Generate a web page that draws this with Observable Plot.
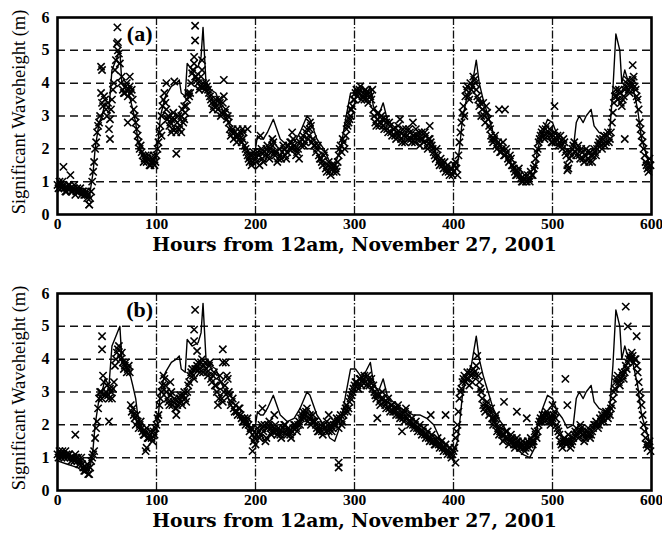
<!DOCTYPE html>
<html>
<head>
<meta charset="utf-8">
<script src="https://cdn.jsdelivr.net/npm/d3@7"></script>
<script src="https://cdn.jsdelivr.net/npm/@observablehq/plot@0.6"></script>
<style>
  html, body { margin: 0; padding: 0; background: #fff; }
  #chart svg { display: block; overflow: visible; }
</style>
</head>
<body>
<div id="chart"></div>
<script>
// ---- Data ----
const xTicks = [0, 100, 200, 300, 400, 500, 600];
const yTicks = [0, 1, 2, 3, 4, 5, 6];
const xGrid = [100, 200, 300, 400, 500];
const yGrid = [1, 2, 3, 4, 5];
const xLabel = "Hours from 12am, November 27, 2001";
const yLabel = "Significant Waveheight (m)";
const panelLabels = ["(a)", "(b)"];

// solid line (same series in both panels)
const lineHours = [0,10,15,20,25,30,33,36,38,42,45,48,52,55,59,63,65,69,72,76,79,81,84,91,98,101,104,109,115,120,123,125,129,131,136,142,145,147,150,155,160,165,170,175,182,189,196,200,202,205,208,212,218,225,232,239,245,252,255,262,269,275,280,286,291,296,301,306,311,316,319,324,329,333,339,346,353,359,366,373,380,386,393,400,404,406,409,413,418,423,426,430,433,436,440,445,450,457,463,470,477,482,485,490,495,500,505,510,515,521,524,527,531,534,539,542,547,553,558,561,564,568,570,573,576,581,586,590,595,600];
const lineValues = [0.9,0.8,0.75,0.7,0.6,0.5,0.7,1.3,2.0,2.8,3.0,3.4,3.2,4.4,4.7,5.0,4.0,3.8,3.7,3.2,2.8,2.3,1.9,1.7,1.6,2.0,3.0,3.6,3.9,4.0,4.1,3.7,3.6,4.6,4.4,4.5,4.8,5.7,4.0,3.8,3.7,3.3,3.0,2.6,2.3,2.1,1.8,2.0,2.4,2.3,2.3,2.5,2.9,2.3,2.1,2.2,2.5,3.0,2.9,2.3,2.0,1.6,1.5,2.0,2.9,3.7,3.7,3.5,3.6,3.9,3.3,3.0,3.4,2.9,2.7,2.5,2.4,2.3,2.3,2.2,2.0,1.6,1.4,1.2,1.5,2.0,2.9,3.5,3.8,4.7,4.0,3.5,3.2,2.9,2.5,2.2,2.0,1.6,1.3,1.1,1.0,1.3,2.0,2.5,2.9,2.8,2.4,2.2,1.9,2.0,2.8,3.0,2.8,3.0,3.2,2.7,2.5,2.4,2.6,3.8,5.5,5.0,4.0,4.4,4.1,3.9,3.2,2.3,1.8,1.3];

// crosses: one series at even hours (0,2,...,598), one at odd hours (1,3,...,599)
const obsAEven = [
  0.9,1.0,0.8,0.9,0.7,0.8,0.9,0.7,0.8,0.6,
  0.8,0.7,0.6,0.7,0.6,0.5,0.3,0.7,1.3,2.0,
  2.5,2.8,3.7,3.3,3.5,3.0,2.6,3.2,3.8,4.4,
  5.2,4.9,4.0,3.8,3.7,4.0,3.8,3.7,3.5,3.0,
  2.6,2.2,2.1,1.8,1.7,1.6,1.8,1.5,1.7,1.5,
  1.8,2.2,2.7,3.3,3.7,3.2,3.0,2.8,2.6,2.9,
  2.5,3.0,2.7,3.2,2.9,3.3,3.7,3.7,4.3,4.6,
  4.2,4.0,3.9,4.4,3.9,4.0,3.8,3.6,3.4,3.3,
  3.5,3.2,3.4,3.1,3.6,3.2,3.0,2.6,2.5,2.3,
  2.4,2.6,2.3,2.2,2.5,2.0,1.8,1.6,1.5,1.9,
  1.7,1.9,1.5,2.0,1.6,1.8,2.1,1.7,1.9,2.2,
  1.8,1.6,2.0,1.7,2.1,1.8,1.9,2.0,2.2,2.3,
  2.0,1.9,1.7,2.1,2.4,2.2,2.6,2.4,2.7,2.3,
  2.1,2.0,1.8,1.7,1.5,1.9,1.3,1.6,1.2,1.4,
  1.5,1.3,1.8,2.1,2.3,2.0,2.6,2.8,3.0,3.3,
  3.5,3.8,3.7,3.9,3.6,3.5,3.7,3.4,3.6,3.8,
  3.0,2.7,3.1,2.8,2.9,2.6,2.8,2.5,2.7,2.4,
  2.6,2.3,2.7,2.5,2.2,2.4,2.6,2.3,2.5,2.2,
  2.4,2.6,2.3,2.1,2.5,2.2,2.4,2.0,2.3,2.1,
  1.9,1.7,1.8,1.5,1.6,1.4,1.3,1.5,1.2,1.4,
  1.3,1.6,1.2,2.2,2.8,3.3,3.6,3.9,3.5,3.8,
  4.2,4.0,3.6,3.3,3.0,3.4,2.8,3.1,2.7,2.4,
  2.2,2.4,2.0,2.1,1.9,2.2,1.8,1.9,1.6,1.7,
  1.5,1.3,1.2,1.4,1.1,1.0,1.2,1.0,1.1,1.3,
  1.2,1.5,1.9,2.2,2.4,2.6,2.3,2.7,2.5,2.4,
  2.2,2.5,2.3,2.1,2.4,2.0,2.2,1.8,1.4,1.9,
  2.0,2.2,1.8,2.1,1.7,1.9,1.6,2.0,1.7,1.9,
  1.6,2.0,1.8,2.1,2.3,2.0,2.4,2.2,2.5,2.3,
  2.8,3.4,3.8,3.5,3.7,3.3,3.6,3.9,4.1,3.7,
  4.0,4.2,3.8,3.5,2.8,2.4,2.0,1.6,1.4,1.7
];
const obsAOdd = [
  0.8,0.9,1.0,0.8,0.7,0.9,0.8,0.7,0.9,0.7,
  0.7,0.8,0.7,0.6,0.7,0.6,0.5,1.0,1.6,2.2,
  2.7,3.0,3.4,3.6,3.2,3.4,2.9,3.5,4.0,4.7,
  5.0,4.6,4.2,3.7,3.9,3.6,3.9,3.8,3.2,2.8,
  2.4,2.0,1.9,1.6,1.8,1.7,1.5,1.6,1.8,1.6,
  2.0,2.5,3.0,3.5,3.4,2.9,2.7,2.9,3.1,2.6,
  2.8,2.6,3.0,2.8,3.1,3.5,3.6,4.0,4.4,4.2,
  4.1,3.8,4.2,4.0,3.8,3.9,3.7,3.5,3.2,3.4,
  3.3,3.5,3.0,3.4,3.1,2.9,2.8,2.4,2.6,2.5,
  2.2,2.4,2.5,2.3,2.1,1.9,1.7,1.8,1.6,1.8,
  1.6,1.8,1.9,1.7,1.9,2.0,1.8,2.0,2.1,1.9,
  1.9,1.7,1.8,1.9,2.0,1.7,2.1,2.2,2.0,2.1,
  1.8,2.0,2.2,2.3,2.1,2.5,2.3,2.6,2.2,2.1,
  1.9,2.1,1.7,1.6,1.8,1.4,1.5,1.3,1.5,1.3,
  1.4,1.6,2.0,1.9,2.2,2.4,2.7,2.9,3.2,3.5,
  3.7,3.6,3.8,3.5,3.7,3.8,3.5,3.7,3.5,3.2,
  2.8,2.9,2.7,3.0,2.7,2.9,2.6,2.8,2.5,2.6,
  2.4,2.5,2.4,2.3,2.6,2.2,2.4,2.6,2.3,2.4,
  2.2,2.4,2.5,2.3,2.3,2.5,2.1,2.3,2.2,2.0,
  1.8,2.0,1.6,1.7,1.5,1.6,1.4,1.3,1.4,1.2,
  1.5,1.4,1.8,2.5,3.1,3.0,3.8,3.6,4.0,3.9,
  4.1,3.8,3.5,3.4,3.2,3.0,3.3,2.9,2.6,2.3,
  2.3,2.1,2.2,1.9,2.0,1.8,2.0,1.7,1.8,1.5,
  1.4,1.2,1.3,1.2,1.0,1.1,1.0,1.2,1.0,1.2,
  1.4,1.7,2.0,2.3,2.5,2.4,2.6,2.4,2.6,2.2,
  2.4,2.2,2.4,2.2,2.1,2.3,1.9,1.5,1.7,1.8,
  2.1,1.9,2.0,1.8,2.0,1.7,1.8,1.9,1.6,1.8,
  1.8,1.9,2.0,2.2,2.1,2.3,2.1,2.4,2.2,2.5,
  3.1,3.6,3.6,3.8,3.4,3.5,3.8,4.0,3.8,3.9,
  4.1,3.9,3.6,3.2,2.6,2.2,1.8,1.5,1.3,1.5
];
const obsAExtraHours  = [6,13,32,44,45,53,60.5,61,71,73,105,110,115,118,120,125,128,138,139,139,146,168,187,192,205,217,237,255,296,346,359,376,446,452,502,515,573,581];
const obsAExtraValues = [1.45,1.2,0.3,4.5,4.4,2.3,5.7,5.25,2.8,4.2,2.4,4.0,2.5,4.05,1.85,2.5,3.3,4.8,5.75,5.3,4.7,4.1,2.6,2.6,2.4,2.3,2.5,2.8,3.2,2.9,2.8,2.7,3.2,3.2,3.3,1.35,2.3,4.55];

const obsBEven = [
  1.1,1.2,1.0,1.1,1.2,1.0,1.1,0.9,1.0,1.1,
  0.9,0.8,1.0,0.7,0.6,0.8,0.5,0.9,1.1,1.6,
  2.1,2.8,3.0,3.5,2.9,3.2,2.8,3.0,3.1,3.8,
  4.2,4.4,4.0,3.9,3.8,3.6,3.8,2.6,2.5,2.2,
  2.3,1.9,2.1,1.8,1.7,1.9,1.6,1.8,1.5,1.7,
  2.0,2.3,2.8,3.2,3.4,3.0,2.7,2.9,2.6,2.8,
  2.5,2.7,2.9,2.6,3.0,2.7,3.2,3.5,3.7,3.4,
  3.7,3.9,3.6,4.0,3.8,3.7,3.5,3.9,3.3,3.6,
  3.2,2.6,3.5,2.8,3.0,3.9,3.4,2.9,2.7,2.5,
  2.6,2.3,2.5,2.2,2.1,2.0,2.2,1.8,1.9,1.5,
  1.4,1.9,1.6,2.0,1.8,1.5,1.9,2.1,1.7,1.8,
  2.0,1.7,1.8,1.6,1.9,2.0,1.7,1.8,1.6,1.9,
  2.0,1.8,2.1,2.2,2.4,2.3,2.5,2.2,2.0,2.3,
  2.1,1.9,1.8,2.0,1.7,1.9,2.1,1.8,2.0,1.9,
  2.1,2.2,1.9,2.3,2.1,2.4,2.6,2.5,2.8,3.0,
  3.2,3.3,3.1,3.4,3.3,3.5,3.2,3.4,3.3,3.1,
  3.0,2.8,2.9,2.6,3.0,2.7,2.5,2.8,2.4,2.6,
  2.5,2.3,2.6,2.2,2.4,2.1,2.5,2.3,2.0,2.2,
  1.9,2.1,1.8,2.0,1.7,1.9,1.6,1.8,1.5,1.7,
  1.5,1.4,1.6,1.3,1.5,1.2,1.4,1.1,1.3,1.0,
  1.2,1.6,2.0,2.8,3.1,3.4,3.3,3.6,3.2,3.5,
  3.7,3.5,4.1,3.3,3.0,2.6,2.4,2.7,2.3,2.5,
  2.0,2.2,1.8,1.7,1.9,1.5,1.6,1.8,1.4,1.7,
  1.5,1.3,1.6,1.4,1.3,1.5,1.2,1.4,1.3,1.6,
  1.4,1.8,1.6,2.0,2.2,2.3,2.1,2.4,2.2,2.0,
  2.2,2.4,2.0,1.8,1.5,1.3,1.6,1.4,1.7,1.3,
  1.5,1.7,1.9,1.6,2.0,1.8,1.5,1.7,1.9,1.6,
  1.8,2.0,2.1,1.9,2.2,2.3,2.1,2.4,2.2,2.3,
  2.6,3.0,3.3,3.5,3.2,3.6,3.4,3.8,3.9,4.1,
  4.2,3.9,4.0,3.6,3.0,2.6,2.0,1.6,1.3,1.5
];
const obsBOdd = [
  1.0,1.1,1.2,1.0,1.1,1.1,1.0,1.0,0.9,1.0,
  1.0,0.9,0.8,0.6,0.7,0.5,0.7,1.0,1.2,1.9,
  2.5,3.0,2.8,3.3,3.0,2.9,3.1,2.8,3.3,4.0,
  4.3,4.1,4.2,3.7,3.9,3.7,3.6,2.4,2.3,2.0,
  2.1,2.0,1.9,1.7,1.8,1.6,1.7,1.6,1.8,1.9,
  2.2,2.6,3.0,3.5,3.2,2.8,2.6,3.0,2.7,2.5,
  2.6,2.8,2.7,2.9,2.8,3.0,3.3,3.6,3.5,3.7,
  3.8,3.7,3.9,3.6,3.9,3.6,3.8,3.4,3.5,3.2,
  3.0,2.8,3.3,2.7,3.2,3.5,3.0,2.6,2.8,2.4,
  2.4,2.5,2.3,2.1,2.2,2.1,2.0,1.9,1.7,1.6,
  1.7,1.8,1.7,1.9,2.0,1.6,2.0,1.9,1.8,1.9,
  1.8,1.9,1.7,1.8,2.0,1.8,1.9,1.7,1.8,2.0,
  1.9,2.0,2.0,2.3,2.2,2.4,2.1,2.3,2.1,2.1,
  2.0,1.8,1.9,1.8,2.0,1.8,2.0,1.9,1.8,2.0,
  2.0,2.1,2.2,2.0,2.3,2.5,2.4,2.7,2.9,3.1,
  3.3,3.2,3.4,3.2,3.4,3.3,3.5,3.2,3.4,3.2,
  2.9,2.9,2.7,2.8,2.8,2.6,2.7,2.5,2.6,2.4,
  2.4,2.5,2.3,2.3,2.2,2.4,2.2,2.1,2.1,2.0,
  2.0,1.9,1.9,1.8,1.8,1.7,1.7,1.6,1.6,1.5,
  1.4,1.5,1.4,1.4,1.3,1.3,1.2,1.2,1.1,1.1,
  1.3,1.8,2.4,3.0,3.3,3.5,3.4,3.4,3.6,3.3,
  3.6,3.8,3.5,3.1,2.8,2.5,2.6,2.5,2.4,2.2,
  2.1,2.0,1.9,1.8,1.7,1.7,1.8,1.6,1.5,1.6,
  1.4,1.4,1.5,1.3,1.4,1.3,1.3,1.5,1.4,1.5,
  1.5,1.7,1.8,2.1,2.1,2.2,2.3,2.3,2.1,2.1,
  2.3,2.2,1.9,1.7,1.4,1.5,1.5,1.5,1.5,1.4,
  1.6,1.8,1.7,1.8,1.9,1.7,1.6,1.8,1.7,1.7,
  1.9,2.0,2.0,2.0,2.1,2.2,2.3,2.3,2.4,2.5,
  2.8,3.1,3.4,3.3,3.4,3.5,3.6,3.7,4.0,4.0,
  4.1,4.0,3.8,3.3,2.8,2.3,1.8,1.4,1.4,1.2
];
const obsBExtraHours  = [18,45,45,52,89,90,114,120,138,138,139,141,167,167,197,207,219,274,284,284,323,348,377,392,402,440,443,451,464,474,500,513,515,574,576,585];
const obsBExtraValues = [1.7,4.7,4.3,2.1,1.2,1.3,3.3,2.3,4.55,4.9,5.5,4.25,4.3,3.9,1.2,2.5,2.3,2.3,0.85,0.7,2.2,1.8,2.3,2.3,0.85,2.2,2.3,2.7,2.4,2.2,2.6,3.4,2.6,5.6,5.0,4.7];

// ---- Build tables ----
const lineData = lineHours.map((h, i) => ({h, v: lineValues[i]}));
function obsTable(even, odd, exH, exV) {
  const a = even.map((v, i) => ({h: 2 * i, v}));
  const b = odd.map((v, i) => ({h: 2 * i + 1, v}));
  const c = exH.map((h, i) => ({h, v: exV[i]}));
  return a.concat(b, c);
}
const obsA = obsTable(obsAEven, obsAOdd, obsAExtraHours, obsAExtraValues);
const obsB = obsTable(obsBEven, obsBOdd, obsBExtraHours, obsBExtraValues);

const FONT = "'Liberation Serif', 'DejaVu Serif', serif";
const LABEL_FONT = "'DejaVu Serif', serif";

function panel(obs, tag) {
  return Plot.plot({
    width: 662, height: 276,
    marginTop: 17, marginBottom: 62, marginLeft: 57, marginRight: 11,
    style: {fontFamily: FONT, fontWeight: "bold", background: "#fff", color: "#000", overflow: "visible"},
    x: {domain: [0, 600]},
    y: {domain: [0, 6]},
    marks: [
      Plot.ruleY(yGrid, {stroke: "#111", strokeWidth: 1.5, strokeDasharray: "8,5"}),
      Plot.ruleX(xGrid, {stroke: "#111", strokeWidth: 1.3, strokeDasharray: "8,2,1.5,2"}),
      Plot.line(lineData, {x: "h", y: "v", stroke: "#000", strokeWidth: 1.4}),
      Plot.dot(obs, {x: "h", y: "v", symbol: "times", r: 3.4, stroke: "#000", strokeWidth: 1.6}),
      Plot.frame({stroke: "#000", strokeWidth: 2.6}),
      Plot.axisX({ticks: xTicks, tickSize: 0, tickPadding: 3, fontSize: 15.5, label: null, tickFormat: d => String(d)}),
      Plot.axisY({ticks: yTicks, tickSize: 0, tickPadding: 8, fontSize: 16, label: null, tickFormat: d => String(d)}),
      Plot.text([xLabel], {frameAnchor: "bottom", dy: 36, fontSize: 18.8, fontWeight: "bold", fontFamily: LABEL_FONT}),
      Plot.text([yLabel], {frameAnchor: "left", textAnchor: "middle", dx: -38, dy: -4, rotate: -90, fontSize: 18.5, fontWeight: "normal"}),
      Plot.text([tag], {x: () => 83, y: () => 5.5, fontSize: 22, fontWeight: "bold"})
    ]
  });
}

const root = document.getElementById("chart");
root.appendChild(panel(obsA, panelLabels[0]));
root.appendChild(panel(obsB, panelLabels[1]));
</script>
</body>
</html>
